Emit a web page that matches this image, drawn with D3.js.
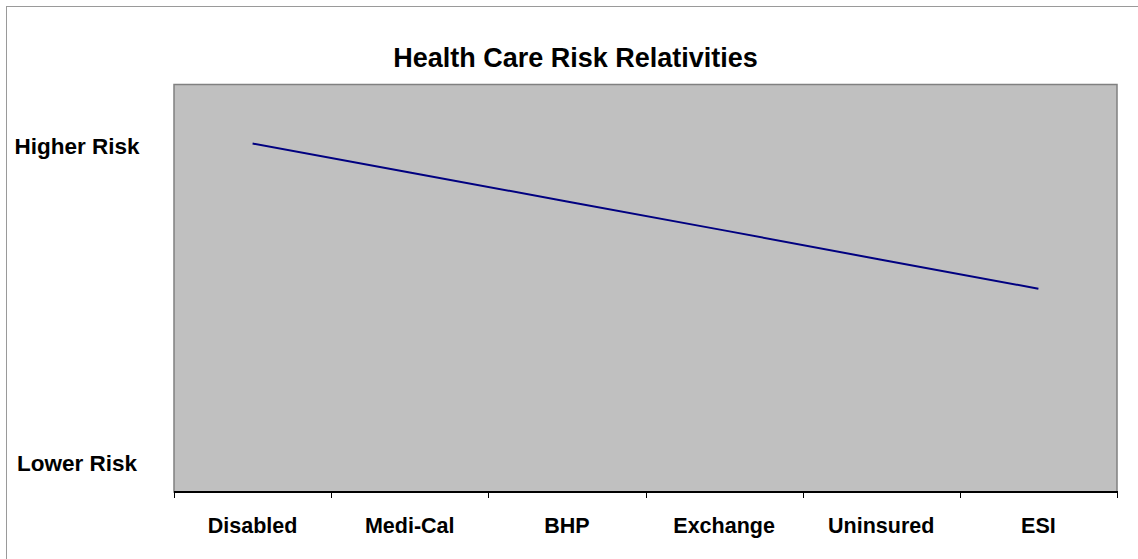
<!DOCTYPE html>
<html><head><meta charset="utf-8">
<script src="https://cdn.jsdelivr.net/npm/d3@7"></script>
<style>html,body{margin:0;padding:0;background:#fff;overflow:hidden}svg{display:block}</style>
</head><body>
<script>
const categories = ["Disabled", "Medi-Cal", "BHP", "Exchange", "Uninsured", "ESI"];
const riskValues = [85.5, 78.4, 71.3, 64.2, 57.0, 49.9];
const riskTickValues = [7.2, 85];
const riskTickLabels = ["Lower Risk", "Higher Risk"];
const title = "Health Care Risk Relativities";

const W = 1138, H = 559;
const plot = {left: 174, right: 1117, top: 84.5, bottom: 492};
const svg = d3.select("body").append("svg").attr("width", W).attr("height", H);
const font = "'Liberation Sans', Arial, sans-serif";

// outer chart border
svg.append("rect").attr("x", 6.5).attr("y", 6.5).attr("width", W + 10).attr("height", H + 10)
  .attr("fill", "#fff").attr("stroke", "#9a9a9a").attr("stroke-width", 1);

const x = d3.scaleBand().domain(categories).range([plot.left, plot.right]).padding(0);
const y = d3.scaleLinear().domain([0, 100]).range([plot.bottom, plot.top]);

// plot area
svg.append("rect").attr("x", plot.left).attr("y", plot.top)
  .attr("width", plot.right - plot.left).attr("height", plot.bottom - plot.top)
  .attr("fill", "#c0c0c0").attr("stroke", "#808080").attr("stroke-width", 1.5);

// title
svg.append("text").attr("x", 575.5).attr("y", 67).attr("text-anchor", "middle")
  .attr("font-family", font).attr("font-weight", "bold").attr("font-size", 27)
  .attr("fill", "#000").text(title);

// y labels
const yAxis = d3.axisLeft(y).tickValues(riskTickValues)
  .tickFormat((d, i) => riskTickLabels[i]).tickSize(0).tickPadding(0);
const yg = svg.append("g").attr("transform", "translate(0,0)").call(yAxis);
yg.select(".domain").remove();
yg.selectAll("text").attr("x", 77).attr("text-anchor", "middle").attr("dy", "0.36em")
  .attr("font-family", font).attr("font-weight", "bold").attr("font-size", 22.5).attr("fill", "#000");

// x axis
const xAxis = d3.axisBottom(x).tickSize(0).tickPadding(0);
const xg = svg.append("g").attr("transform", `translate(0,${plot.bottom})`).call(xAxis);
xg.select(".domain").remove();
xg.selectAll("text").attr("y", 40.5).attr("dy", 0)
  .attr("font-family", font).attr("font-weight", "bold").attr("font-size", 21.5).attr("fill", "#000");
// tick marks at band boundaries
const bounds = categories.map(c => x(c)).concat([x(categories[categories.length - 1]) + x.bandwidth()]);
svg.append("g").selectAll("line").data(bounds).join("line")
  .attr("x1", d => Math.round(d) + 0.5).attr("x2", d => Math.round(d) + 0.5)
  .attr("y1", plot.bottom).attr("y2", plot.bottom + 6)
  .attr("stroke", "#000").attr("stroke-width", 1);
svg.append("line").attr("x1", plot.left).attr("x2", plot.right + 1)
  .attr("y1", plot.bottom).attr("y2", plot.bottom)
  .attr("stroke", "#000").attr("stroke-width", 2);

// series line
const line = d3.line().x((d, i) => x(categories[i]) + x.bandwidth() / 2).y(d => y(d));
svg.append("path").datum(riskValues).attr("d", line)
  .attr("fill", "none").attr("stroke", "#000080").attr("stroke-width", 2);
</script>
</body></html>
